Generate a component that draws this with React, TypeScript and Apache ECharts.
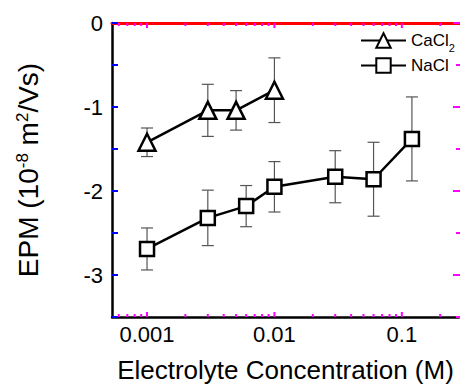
import React, { useEffect, useRef } from 'react';
import * as echarts from 'echarts';

// ---- data ----
const caConc = [0.001, 0.003, 0.005, 0.01];
const caEpm = [-1.42, -1.04, -1.04, -0.8];
const caErr = [0.17, 0.31, 0.235, 0.385];

const naConc = [0.001, 0.003, 0.006, 0.01, 0.03, 0.06, 0.12];
const naEpm = [-2.69, -2.32, -2.18, -1.95, -1.83, -1.86, -1.38];
const naErr = [0.25, 0.33, 0.245, 0.3, 0.31, 0.44, 0.5];

const xMajorTicks = [0.001, 0.01, 0.1];
const xMinorTicks = [
  0.0006, 0.0007, 0.0008, 0.0009,
  0.002, 0.003, 0.004, 0.005, 0.006, 0.007, 0.008, 0.009,
  0.02, 0.03, 0.04, 0.05, 0.06, 0.07, 0.08, 0.09,
  0.2,
];
const yMajorTicks = [0, -1, -2, -3];
const yMinorTicks = [-0.5, -1.5, -2.5, -3.5];
const xMin = 0.000531;
const xMax = 0.281;
const yMin = -3.5;
const yMax = 0;

const FONT = '"Liberation Sans", Arial, Helvetica, sans-serif';
const lg = (v: number) => Math.log10(v);
const MAJOR_LEN = 5;
const MINOR_LEN = 3;

function errorSeries(conc: number[], epm: number[], err: number[]) {
  return {
    type: 'custom',
    xAxisIndex: 0,
    yAxisIndex: 0,
    z: 1,
    silent: true,
    encode: { x: 0, y: [1, 2] },
    data: conc.map((c, i) => [lg(c), epm[i] - err[i], epm[i] + err[i]]),
    renderItem: (params: any, api: any) => {
      const x = api.value(0);
      const top = api.coord([x, api.value(2)]);
      const bot = api.coord([x, api.value(1)]);
      const w = 6;
      const st = { stroke: '#555', lineWidth: 1.2 };
      return {
        type: 'group',
        children: [
          { type: 'line', shape: { x1: top[0], y1: top[1], x2: bot[0], y2: bot[1] }, style: st },
          { type: 'line', shape: { x1: top[0] - w, y1: top[1], x2: top[0] + w, y2: top[1] }, style: st },
          { type: 'line', shape: { x1: bot[0] - w, y1: bot[1], x2: bot[0] + w, y2: bot[1] }, style: st },
        ],
      };
    },
  };
}

// tick marks on bottom & top edges, placed by the x scale
function xTickSeries(ticks: number[], len: number) {
  return {
    type: 'custom',
    xAxisIndex: 0,
    yAxisIndex: 0,
    z: 5,
    silent: true,
    clip: false,
    encode: { x: 0, y: 1 },
    data: ticks.map((t) => [lg(t), yMin]),
    renderItem: (params: any, api: any) => {
      const cs = params.coordSys;
      const px = api.coord([api.value(0), yMin])[0];
      const yb = cs.y + cs.height;
      const yt = cs.y;
      const st = { stroke: 'magenta', lineWidth: 2 };
      return {
        type: 'group',
        children: [
          { type: 'line', shape: { x1: px, y1: yb, x2: px, y2: yb - len }, style: st },
          { type: 'line', shape: { x1: px, y1: yt, x2: px, y2: yt + len }, style: st },
        ],
      };
    },
  };
}

// tick marks on the right edge, placed by the y scale
function yRightTickSeries(ticks: number[], len: number) {
  return {
    type: 'custom',
    xAxisIndex: 0,
    yAxisIndex: 0,
    z: 5,
    silent: true,
    clip: false,
    encode: { x: 0, y: 1 },
    data: ticks.map((t) => [lg(xMax), t]),
    renderItem: (params: any, api: any) => {
      const cs = params.coordSys;
      const py = api.coord([lg(xMax), api.value(1)])[1];
      const xr = cs.x + cs.width + 1;
      return {
        type: 'line',
        shape: { x1: xr, y1: py, x2: xr - len, y2: py },
        style: { stroke: 'magenta', lineWidth: 2 },
      };
    },
  };
}

export default function App() {
  const ref = useRef<HTMLDivElement>(null);
  useEffect(() => {
    if (!ref.current) return;
    const chart = echarts.init(ref.current, null, { renderer: 'svg' });
    const symStyle = { color: '#fff', borderColor: '#000', borderWidth: 2.5 };
    const option: any = {
      animation: false,
      backgroundColor: '#fff',
      textStyle: { fontFamily: FONT, color: '#000' },
      grid: { left: 112, top: 23, right: 1, bottom: 67, containLabel: false, outerBoundsMode: 'none' },
      legend: [
        {
          data: ['CaCl2'],
          left: 360,
          top: 28,
          padding: 0,
          itemWidth: 45,
          itemHeight: 18,
          formatter: () => 'CaCl{sub|2}',
          textStyle: {
            fontSize: 17,
            color: '#000',
            fontFamily: FONT,
            lineHeight: 17,
            rich: { sub: { fontSize: 11, lineHeight: 11, padding: [14, 0, 0, 0], fontFamily: FONT, color: '#000' } },
          },
        },
        {
          data: ['NaCl'],
          left: 360,
          top: 57,
          padding: 0,
          itemWidth: 45,
          itemHeight: 18,
          textStyle: { fontSize: 17, color: '#000', fontFamily: FONT },
        },
      ],
      xAxis: [
        {
          type: 'value',
          position: 'bottom',
          min: lg(xMin),
          max: lg(xMax),
          axisLine: { show: true, onZero: false, lineStyle: { color: '#000', width: 2.5 } },
          axisTick: { show: false },
          axisLabel: {
            customValues: xMajorTicks.map(lg),
            formatter: (v: number) => Math.pow(10, Math.round(v)).toFixed(-Math.round(v)),
            fontSize: 22,
            color: '#000',
            fontFamily: FONT,
            margin: 6,
          },
          splitLine: { show: false },
          name: 'Electrolyte Concentration (M)',
          nameLocation: 'middle',
          nameGap: 40,
          nameTextStyle: { fontSize: 26, color: '#000', fontFamily: FONT },
        },
        {
          type: 'value',
          position: 'top',
          min: lg(xMin),
          max: lg(xMax),
          axisLine: { show: true, onZero: false, lineStyle: { color: 'red', width: 3 } },
          axisTick: { show: false },
          axisLabel: { show: false },
          splitLine: { show: false },
        },
      ],
      yAxis: [
        {
          type: 'value',
          position: 'left',
          min: yMin,
          max: yMax,
          interval: 0.5,
          axisLine: { show: true, onZero: false, lineStyle: { color: '#000', width: 2.5 } },
          axisTick: { show: true, inside: true, length: MAJOR_LEN + 1, lineStyle: { color: 'blue', width: 2 } },
          axisLabel: {
            formatter: (v: number) => (yMajorTicks.indexOf(v) >= 0 ? String(v) : ''),
            fontSize: 22,
            color: '#000',
            fontFamily: FONT,
            margin: 9,
          },
          splitLine: { show: false },
          name: 'EPM (10{sup|-8} m{sup|2}/Vs)',
          nameLocation: 'middle',
          nameGap: 70,
          nameTextStyle: {
            fontSize: 28,
            lineHeight: 28,
            color: '#000',
            fontFamily: FONT,
            rich: { sup: { fontSize: 17, lineHeight: 17, padding: [0, 0, 12, 0], fontFamily: FONT, color: '#000' } },
          },
        },
        {
          type: 'value',
          position: 'right',
          min: yMin,
          max: yMax,
          axisLine: { show: false },
          axisTick: { show: false },
          axisLabel: { show: false },
          splitLine: { show: false },
        },
      ],
      series: [
        errorSeries(caConc, caEpm, caErr),
        errorSeries(naConc, naEpm, naErr),
        xTickSeries(xMajorTicks, MAJOR_LEN),
        xTickSeries(xMinorTicks, MINOR_LEN),
        yRightTickSeries(yMajorTicks, MAJOR_LEN + 2),
        yRightTickSeries(yMinorTicks, MINOR_LEN + 1),
        {
          name: 'CaCl2',
          type: 'line',
          xAxisIndex: 0,
          yAxisIndex: 0,
          z: 3,
          data: caConc.map((c, i) => [lg(c), caEpm[i]]),
          symbol: 'triangle',
          symbolSize: 17,
          itemStyle: symStyle,
          lineStyle: { color: '#000', width: 2.5 },
        },
        {
          name: 'NaCl',
          type: 'line',
          xAxisIndex: 0,
          yAxisIndex: 0,
          z: 3,
          data: naConc.map((c, i) => [lg(c), naEpm[i]]),
          symbol: 'rect',
          symbolSize: 14,
          itemStyle: symStyle,
          lineStyle: { color: '#000', width: 2.5 },
        },
      ],
    };
    chart.setOption(option);
    return () => chart.dispose();
  }, []);
  return <div ref={ref} style={{ position: 'absolute', left: 0, top: 0, width: 460, height: 384 }} />;
}
